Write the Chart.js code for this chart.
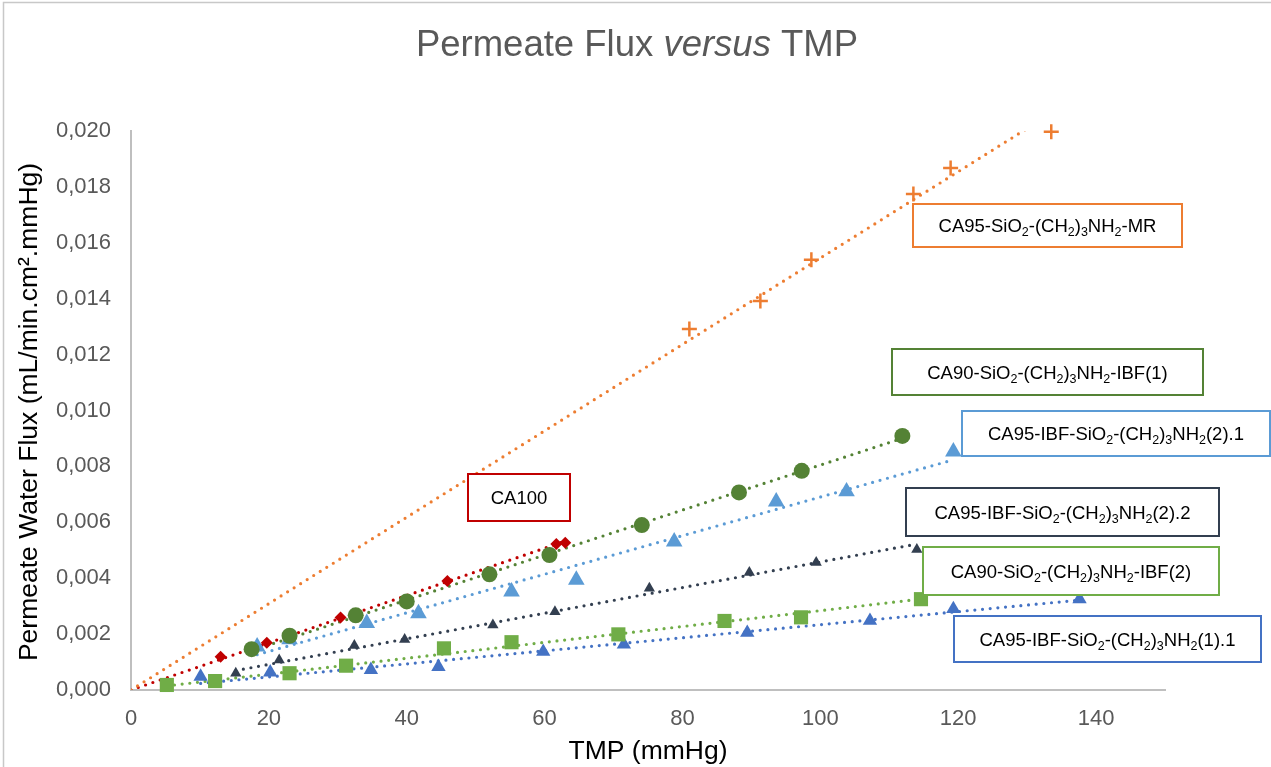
<!DOCTYPE html>
<html>
<head>
<meta charset="utf-8">
<title>Permeate Flux versus TMP</title>
<script src="https://cdn.jsdelivr.net/npm/chart.js@4.4.1/dist/chart.umd.min.js"></script>
<style>
  html, body { margin: 0; padding: 0; background: #ffffff; }
  canvas { display: block; }
</style>
</head>
<body>
<canvas id="flux" width="1271" height="767"></canvas>
<script>
// Transmembrane pressure (mmHg) and permeate water flux (mL/min.cm².mmHg) per membrane
const tmpMR    = [81.0, 91.3, 98.7, 113.5, 118.9, 133.5];
const fluxMR   = [0.01292, 0.01392, 0.01539, 0.01775, 0.01868, 0.01997];

const tmpCA100  = [13.0, 19.7, 30.4, 45.9, 61.7, 63.0];
const fluxCA100 = [0.00119, 0.00169, 0.00259, 0.00390, 0.00522, 0.00527];

const tmpIBF1  = [17.5, 23.0, 32.6, 40.0, 52.0, 60.7, 74.1, 88.2, 97.3, 111.9];
const fluxIBF1 = [0.00146, 0.00194, 0.00267, 0.00317, 0.00414, 0.00483, 0.00590, 0.00707, 0.00784, 0.00909];

const tmpIBF21  = [18.3, 23.0, 34.2, 41.7, 55.2, 64.6, 78.8, 93.6, 103.8, 119.3];
const fluxIBF21 = [0.00155, 0.00181, 0.00239, 0.00274, 0.00352, 0.00394, 0.00531, 0.00674, 0.00710, 0.00853];

const tmpIBF22  = [15.2, 21.5, 32.4, 39.7, 52.5, 61.5, 75.2, 89.7, 99.4, 114.0];
const fluxIBF22 = [0.00060, 0.00107, 0.00159, 0.00181, 0.00233, 0.00280, 0.00364, 0.00420, 0.00456, 0.00503];

const tmpIBF2  = [5.2, 12.2, 23.0, 31.2, 45.4, 55.2, 70.7, 86.1, 97.2, 114.6];
const fluxIBF2 = [0.00018, 0.00032, 0.00060, 0.00087, 0.00149, 0.00171, 0.00199, 0.00247, 0.00260, 0.00325];

const tmpIBF11  = [10.1, 20.2, 34.8, 44.6, 59.8, 71.5, 89.4, 107.2, 119.3, 137.6];
const fluxIBF11 = [0.00048, 0.00063, 0.00072, 0.00083, 0.00137, 0.00163, 0.00205, 0.00248, 0.00290, 0.00325];

// Axis ticks
const xTicks = [0, 20, 40, 60, 80, 100, 120, 140];
const yTicks = [0, 0.002, 0.004, 0.006, 0.008, 0.010, 0.012, 0.014, 0.016, 0.018, 0.020];

// Membrane names ("_x" marks a subscript character)
const membraneNames = [
  'CA95-SiO_2-(CH_2)_3NH_2-MR',
  'CA100',
  'CA90-SiO_2-(CH_2)_3NH_2-IBF(1)',
  'CA95-IBF-SiO_2-(CH_2)_3NH_2(2).1',
  'CA95-IBF-SiO_2-(CH_2)_3NH_2(2).2',
  'CA90-SiO_2-(CH_2)_3NH_2-IBF(2)',
  'CA95-IBF-SiO_2-(CH_2)_3NH_2(1).1'
];

// Series appearance
const series = [
  { x: tmpMR,    y: fluxMR,    color: '#ED7D31', style: 'cross',    radius: 7.5, fromZero: true,
    box: { l: 913, t: 204, w: 269, h: 43 } },
  { x: tmpCA100, y: fluxCA100, color: '#C00000', style: 'rectRot',  radius: 6,   fromZero: true,
    box: { l: 468, t: 474, w: 102, h: 47 } },
  { x: tmpIBF1,  y: fluxIBF1,  color: '#548235', style: 'circle',   radius: 8,   fromZero: false,
    box: { l: 892, t: 349, w: 311, h: 46 } },
  { x: tmpIBF21, y: fluxIBF21, color: '#5B9BD5', style: 'triangle', radius: 9.6, fromZero: false,
    box: { l: 962, t: 411, w: 308, h: 45 } },
  { x: tmpIBF22, y: fluxIBF22, color: '#333F50', style: 'triangle', radius: 6.5, fromZero: false,
    box: { l: 906, t: 488, w: 313, h: 48 } },
  { x: tmpIBF2,  y: fluxIBF2,  color: '#70AD47', style: 'rect',     radius: 10,  fromZero: false,
    box: { l: 923, t: 547, w: 296, h: 48 } },
  { x: tmpIBF11, y: fluxIBF11, color: '#4472C4', style: 'triangle', radius: 8.3, fromZero: false,
    box: { l: 954, t: 616, w: 307, h: 46 } }
];

// Least-squares line through the origin for each membrane
function slopeThroughOrigin(xs, ys) {
  let sxy = 0, sxx = 0;
  xs.forEach((v, i) => { sxy += v * ys[i]; sxx += v * v; });
  return sxy / sxx;
}

const markerSets = series.map((s, i) => ({
  label: membraneNames[i].replace(/_/g, ''),
  data: s.x.map((v, j) => ({ x: v, y: s.y[j] })),
  showLine: false,
  clip: false,
  pointStyle: s.style,
  pointRadius: s.radius,
  pointHoverRadius: s.radius,
  pointBackgroundColor: s.color,
  pointBorderColor: s.color,
  pointBorderWidth: s.style === 'cross' ? 2.5 : 0,
  order: 0
}));

const trendSets = series.map((s, i) => {
  const k = slopeThroughOrigin(s.x, s.y);
  const x0 = s.fromZero ? 0 : Math.min(...s.x);
  const x1 = Math.max(...s.x);
  return {
    label: 'Linear (' + membraneNames[i].replace(/_/g, '') + ')',
    data: [{ x: x0, y: k * x0 }, { x: x1, y: k * x1 }],
    showLine: true,
    clip: 0,
    borderColor: s.color,
    borderWidth: 3.2,
    borderDash: [0, 7.7],
    borderCapStyle: 'round',
    pointRadius: 0,
    pointHoverRadius: 0,
    fill: false,
    order: 1
  };
});

const FONT = '"Liberation Sans", Arial, sans-serif';

// Draws a string where "_c" renders c as a subscript
function drawRich(ctx, text, cx, baseline, size, subSize) {
  const parts = [];
  for (let i = 0; i < text.length; i++) {
    if (text[i] === '_' && i + 1 < text.length) { parts.push([text[i + 1], true]); i++; }
    else parts.push([text[i], false]);
  }
  const widthOf = p => {
    ctx.font = (p[1] ? subSize : size) + 'px ' + FONT;
    return ctx.measureText(p[0]).width;
  };
  const total = parts.reduce((a, p) => a + widthOf(p), 0);
  let x = cx - total / 2;
  ctx.textAlign = 'left';
  ctx.textBaseline = 'alphabetic';
  parts.forEach(p => {
    ctx.font = (p[1] ? subSize : size) + 'px ' + FONT;
    ctx.fillText(p[0], x, baseline + (p[1] ? 4 : 0));
    x += ctx.measureText(p[0]).width;
  });
}

const frame = {
  id: 'frame',
  beforeDraw(chart) {
    const ctx = chart.ctx;
    ctx.save();
    ctx.fillStyle = '#ffffff';
    ctx.fillRect(0, 0, chart.width, chart.height);
    ctx.strokeStyle = '#C8C8C8';
    ctx.lineWidth = 1.5;
    ctx.beginPath();
    ctx.moveTo(3.5, chart.height);
    ctx.lineTo(3.5, 2.5);
    ctx.lineTo(chart.width, 2.5);
    ctx.stroke();
    ctx.restore();
  }
};

const labelBoxes = {
  id: 'labelBoxes',
  afterDatasetsDraw(chart) {
    const ctx = chart.ctx;
    ctx.save();
    series.forEach((s, i) => {
      const b = s.box;
      ctx.fillStyle = '#ffffff';
      ctx.fillRect(b.l, b.t, b.w, b.h);
      ctx.strokeStyle = s.color;
      ctx.lineWidth = 2;
      ctx.strokeRect(b.l, b.t, b.w, b.h);
      ctx.fillStyle = '#000000';
      drawRich(ctx, membraneNames[i], b.l + b.w / 2, b.t + b.h / 2 + 6.5, 18.5, 12.5);
    });
    ctx.restore();
  }
};

const titles = {
  id: 'titles',
  afterDraw(chart) {
    const ctx = chart.ctx;
    const area = chart.chartArea;
    ctx.save();
    // Chart title with italic "versus"
    const segs = [['Permeate Flux ', ''], ['versus', 'italic '], [' TMP', '']];
    const size = 36.5;
    let total = 0;
    segs.forEach(sg => { ctx.font = sg[1] + size + 'px ' + FONT; total += ctx.measureText(sg[0]).width; });
    let x = 637 - total / 2;
    ctx.fillStyle = '#595959';
    ctx.textAlign = 'left';
    ctx.textBaseline = 'alphabetic';
    segs.forEach(sg => {
      ctx.font = sg[1] + size + 'px ' + FONT;
      ctx.fillText(sg[0], x, 56);
      x += ctx.measureText(sg[0]).width;
    });
    // Axis titles
    ctx.fillStyle = '#000000';
    ctx.font = '26.5px ' + FONT;
    ctx.textAlign = 'center';
    ctx.fillText('TMP (mmHg)', (area.left + area.right) / 2, 758.5);
    ctx.translate(37, 412);
    ctx.rotate(-Math.PI / 2);
    ctx.fillText('Permeate Water Flux (mL/min.cm\u00B2.mmHg)', 0, 0);
    ctx.restore();
  }
};

new Chart(document.getElementById('flux'), {
  type: 'scatter',
  data: { datasets: [...markerSets, ...trendSets] },
  options: {
    responsive: false,
    animation: false,
    events: [],
    layout: { padding: { top: 131, right: 106, bottom: 0, left: 0 } },
    plugins: {
      legend: { display: false },
      title: { display: false },
      tooltip: { enabled: false }
    },
    scales: {
      x: {
        type: 'linear',
        min: 0,
        max: 150,
        afterFit: s => { s.height = 77; },
        afterBuildTicks: s => { s.ticks = xTicks.map(v => ({ value: v })); },
        grid: { display: false, drawTicks: false },
        border: { display: true, color: '#BFBFBF', width: 2 },
        ticks: {
          color: '#595959',
          font: { family: FONT, size: 22 },
          padding: 16,
          maxRotation: 0
        }
      },
      y: {
        type: 'linear',
        min: 0,
        max: 0.02,
        afterFit: s => { s.width = 131; },
        afterBuildTicks: s => { s.ticks = yTicks.map(v => ({ value: v })); },
        grid: { display: false, drawTicks: false },
        border: { display: true, color: '#BFBFBF', width: 2 },
        ticks: {
          color: '#595959',
          font: { family: FONT, size: 22 },
          padding: 20,
          callback: v => v.toFixed(3).replace('.', ',')
        }
      }
    }
  },
  plugins: [frame, labelBoxes, titles]
});
</script>
</body>
</html>
